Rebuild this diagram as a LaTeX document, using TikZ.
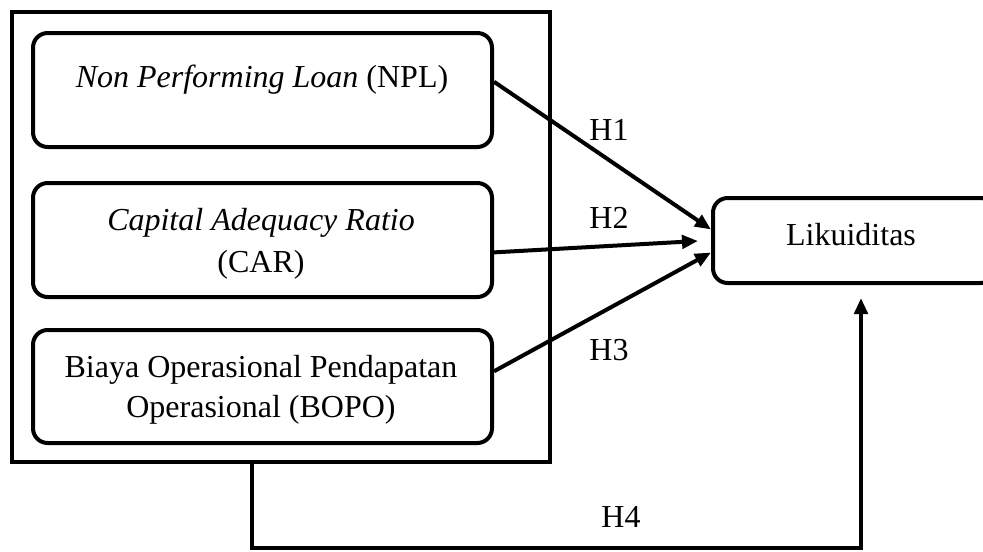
\documentclass[tikz,border=0pt]{standalone}
\usepackage{fontspec}
\setmainfont{Liberation Serif}
\usetikzlibrary{arrows.meta,calc}
\begin{document}
\begin{tikzpicture}[x=0.75pt,y=-0.75pt,
  frame/.style={draw,line width=3pt,inner sep=0pt},
  rbox/.style={draw,line width=3pt,rounded corners=11pt,inner sep=0pt},
  txt/.style={anchor=base,inner sep=0pt,font=\fontsize{24}{30}\selectfont},
  arr/.style={line width=3pt,-{Triangle[length=12pt,width=10pt]}}]
\useasboundingbox (0,0) rectangle (983,551);
% outer frame
\node[frame,minimum width=403.5pt,minimum height=337.5pt] (frm) at (281,237) {};
% inner boxes
\node[rbox,minimum width=344.25pt,minimum height=85.5pt] (npl) at (262.5,90) {};
\node[rbox,minimum width=344.25pt,minimum height=85.5pt] (car) at (262.5,240) {};
\node[rbox,minimum width=344.25pt,minimum height=84.75pt] (bopo) at (262.5,386.5) {};
\node[rbox,minimum width=211.5pt,minimum height=63.75pt] (lik) at (854,240.5) {};
% texts
\node[txt] (t1) at (262,87) {\textit{Non Performing Loan} (NPL)};
\node[txt] (t2a) at (261,230) {\textit{Capital Adequacy Ratio}};
\node[txt] (t2b) at (261,272) {(CAR)};
\node[txt] (t3a) at (261,377) {Biaya Operasional Pendapatan};
\node[txt] (t3b) at (261,417) {Operasional (BOPO)};
\node[txt] (tl) at (851,245) {Likuiditas};
% hypothesis labels
\node[txt] (h1) at (609,140) {H1};
\node[txt] (h2) at (609,228) {H2};
\node[txt] (h3) at (609,360) {H3};
\node[txt] (h4) at (621,527) {H4};
% connector end points
\coordinate (s1) at ($(npl.north east)!0.43!(npl.south east)$);
\coordinate (s2) at ($(car.north east)!0.605!(car.south east)$);
\coordinate (s3) at ($(bopo.north east)!0.37!(bopo.south east)$);
\coordinate (e1) at ($(lik.north west)!0.376!(lik.south west)$);
\coordinate (e3) at ($(lik.north west)!0.635!(lik.south west)$);
\coordinate (e2) at ($(e1)!0.5!(e3)+(-13,0)$);
\coordinate (p1) at (252,548);
\coordinate (p2) at (861,548);
\coordinate (e4) at (861,298);
% arrows
\draw[arr] (s1) -- (e1);
\draw[arr] (s2) -- (e2);
\draw[arr] (s3) -- (e3);
\draw[arr] (frm.south -| p1) -- (p1) -- (p2) -- (e4);
\end{tikzpicture}
\end{document}
